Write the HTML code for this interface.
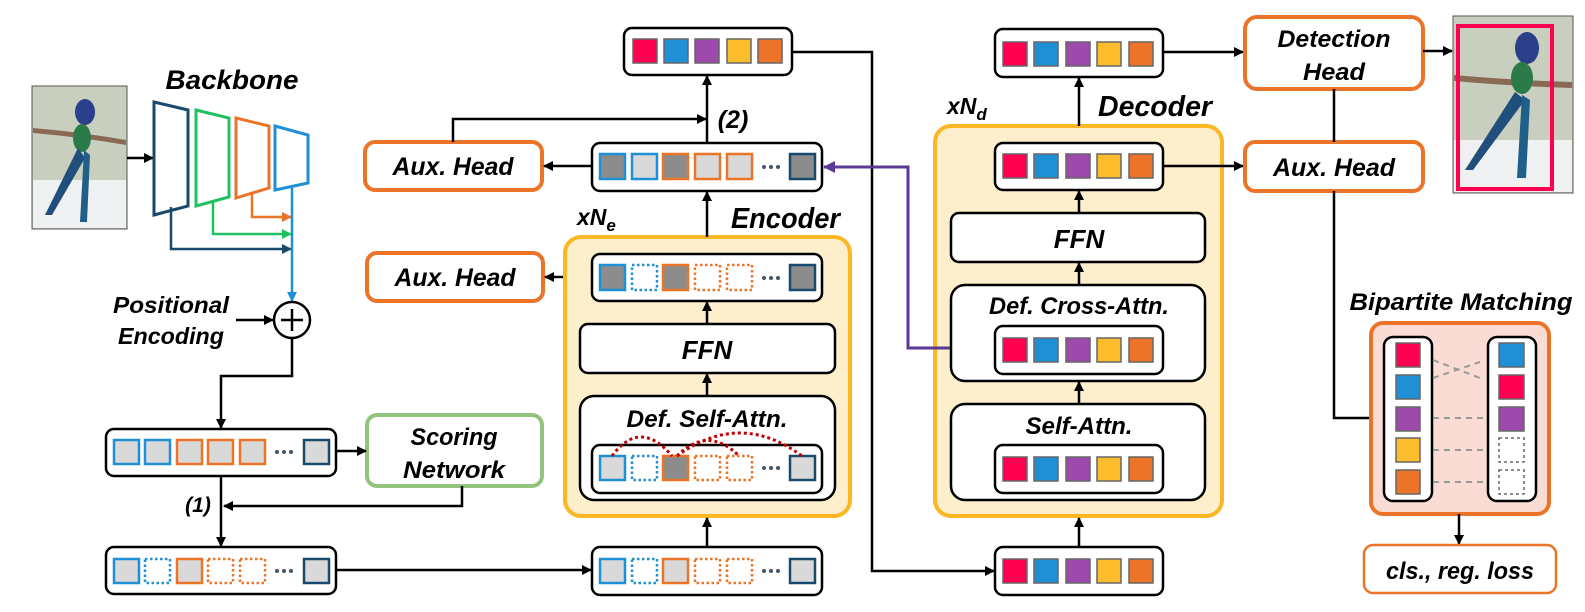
<!DOCTYPE html>
<html><head><meta charset="utf-8"><style>
html,body{margin:0;padding:0;background:#fff;}
svg{display:block;}
text{font-family:"Liberation Sans",sans-serif;font-weight:bold;font-style:italic;fill:#000;}
</style></head><body>
<svg width="1585" height="612" viewBox="0 0 1585 612" xmlns="http://www.w3.org/2000/svg">
<defs>
<marker id="a" markerWidth="10" markerHeight="10" refX="9" refY="5" orient="auto" markerUnits="userSpaceOnUse"><path d="M0,0 L10,5 L0,10 z" fill="#000"/></marker>
<marker id="ap" markerWidth="12" markerHeight="12" refX="11" refY="6" orient="auto" markerUnits="userSpaceOnUse"><path d="M0,0 L12,6 L0,12 z" fill="#5b3a96"/></marker>
<marker id="ao" markerWidth="10" markerHeight="10" refX="9" refY="5" orient="auto" markerUnits="userSpaceOnUse"><path d="M0,0 L10,5 L0,10 z" fill="#eb7428"/></marker>
<marker id="ag" markerWidth="10" markerHeight="10" refX="9" refY="5" orient="auto" markerUnits="userSpaceOnUse"><path d="M0,0 L10,5 L0,10 z" fill="#22c063"/></marker>
<marker id="an" markerWidth="10" markerHeight="10" refX="9" refY="5" orient="auto" markerUnits="userSpaceOnUse"><path d="M0,0 L10,5 L0,10 z" fill="#1a4a6b"/></marker>
<marker id="ab" markerWidth="10" markerHeight="10" refX="9" refY="5" orient="auto" markerUnits="userSpaceOnUse"><path d="M0,0 L10,5 L0,10 z" fill="#1f8fd6"/></marker>
</defs>

<!-- bird image left -->
<g>
<rect x="32" y="86" width="95" height="143" fill="#c9cfbf" stroke="#555" stroke-width="1"/>
<rect x="33" y="180" width="93" height="48" fill="#eef0f2"/>
<path d="M33,128 Q80,132 126,140 L126,145 Q80,137 33,133z" fill="#8a6a55"/>
<ellipse cx="85" cy="112" rx="10" ry="13" fill="#2b3f8a"/>
<ellipse cx="82" cy="138" rx="9" ry="14" fill="#2a7a4a"/>
<path d="M78,148 L45,215 L52,215 L85,158z" fill="#1f4f7a"/>
<path d="M84,150 L80,222 L87,222 L90,155z" fill="#1f5f8a"/>
</g>
<line x1="127" y1="158" x2="153" y2="158" stroke="#000" stroke-width="2.5" marker-end="url(#a)"/>

<!-- Backbone -->
<text x="232" y="89" font-size="27" text-anchor="middle" textLength="133" lengthAdjust="spacingAndGlyphs">Backbone</text>
<polygon points="154,102 188,110 188,206 154,215" fill="none" stroke="#1a4a6b" stroke-width="3"/>
<polygon points="196,110 229,118 229,197 196,206" fill="none" stroke="#22c063" stroke-width="3"/>
<polygon points="236,118 269,126 269,188 236,198" fill="none" stroke="#eb7428" stroke-width="3"/>
<polygon points="275,126 308,135 308,183 275,190" fill="none" stroke="#1f8fd6" stroke-width="3"/>
<polyline points="171,207 171,249 291,249" fill="none" stroke="#1a4a6b" stroke-width="2.5" marker-end="url(#an)"/>
<polyline points="213,202 213,234 291,234" fill="none" stroke="#22c063" stroke-width="2.5" marker-end="url(#ag)"/>
<polyline points="252,193 252,217 291,217" fill="none" stroke="#eb7428" stroke-width="2.5" marker-end="url(#ao)"/>
<line x1="292" y1="186" x2="292" y2="301" stroke="#1f8fd6" stroke-width="2.5" marker-end="url(#ab)"/>

<circle cx="292" cy="320" r="18" fill="#fff" stroke="#000" stroke-width="2.5"/>
<line x1="281" y1="320" x2="303" y2="320" stroke="#000" stroke-width="2.5"/>
<line x1="292" y1="309" x2="292" y2="331" stroke="#000" stroke-width="2.5"/>
<text x="171" y="313" font-size="23" text-anchor="middle" textLength="116" lengthAdjust="spacingAndGlyphs">Positional</text>
<text x="171" y="344" font-size="23" text-anchor="middle" textLength="106" lengthAdjust="spacingAndGlyphs">Encoding</text>
<line x1="236" y1="320" x2="273" y2="320" stroke="#000" stroke-width="2.5" marker-end="url(#a)"/>
<polyline points="292,338 292,376 221,376 221,428" fill="none" stroke="#000" stroke-width="2.5" marker-end="url(#a)"/>

<!-- Row 1 -->
<rect x="106" y="429" width="230" height="47" rx="8" fill="#fff" stroke="#000" stroke-width="2.5"/>
<g stroke-width="2.5">
<rect x="114" y="440" width="25" height="24" fill="#d9d9d9" stroke="#1f8fd6"/>
<rect x="145" y="440" width="25" height="24" fill="#d9d9d9" stroke="#1f8fd6"/>
<rect x="177" y="440" width="25" height="24" fill="#d9d9d9" stroke="#eb7428"/>
<rect x="208" y="440" width="25" height="24" fill="#d9d9d9" stroke="#eb7428"/>
<rect x="240" y="440" width="25" height="24" fill="#d9d9d9" stroke="#eb7428"/>
<rect x="304" y="440" width="25" height="24" fill="#d9d9d9" stroke="#1a4a6b"/>
</g>
<g fill="#44546a"><circle cx="277" cy="452" r="2"/><circle cx="284" cy="452" r="2"/><circle cx="291" cy="452" r="2"/></g>

<!-- Scoring Network -->
<rect x="367" y="415" width="175" height="71" rx="10" fill="#fff" stroke="#93c47d" stroke-width="4"/>
<text x="454" y="445" font-size="24" text-anchor="middle" textLength="87" lengthAdjust="spacingAndGlyphs">Scoring</text>
<text x="454" y="478" font-size="24" text-anchor="middle" textLength="102" lengthAdjust="spacingAndGlyphs">Network</text>
<line x1="336" y1="451" x2="366" y2="451" stroke="#000" stroke-width="2.5" marker-end="url(#a)"/>
<polyline points="462,486 462,506 224,506" fill="none" stroke="#000" stroke-width="2.5" marker-end="url(#a)"/>
<text x="198" y="512" font-size="21" text-anchor="middle">(1)</text>
<line x1="221" y1="476" x2="221" y2="546" stroke="#000" stroke-width="2.5" marker-end="url(#a)"/>

<!-- Row 2 -->
<rect x="106" y="547" width="230" height="47" rx="8" fill="#fff" stroke="#000" stroke-width="2.5"/>
<g stroke-width="2.5">
<rect x="114" y="559" width="25" height="24" fill="#d9d9d9" stroke="#1f8fd6"/>
<rect x="145" y="559" width="25" height="24" fill="none" stroke="#1f8fd6" stroke-dasharray="2.5,2.5"/>
<rect x="177" y="559" width="25" height="24" fill="#d9d9d9" stroke="#eb7428"/>
<rect x="208" y="559" width="25" height="24" fill="none" stroke="#eb7428" stroke-dasharray="2.5,2.5"/>
<rect x="240" y="559" width="25" height="24" fill="none" stroke="#eb7428" stroke-dasharray="2.5,2.5"/>
<rect x="304" y="559" width="25" height="24" fill="#d9d9d9" stroke="#1a4a6b"/>
</g>
<g fill="#44546a"><circle cx="277" cy="571" r="2"/><circle cx="284" cy="571" r="2"/><circle cx="291" cy="571" r="2"/></g>
<line x1="336" y1="570" x2="591" y2="570" stroke="#000" stroke-width="2.5" marker-end="url(#a)"/>

<!-- Aux heads left -->
<rect x="365" y="142" width="177" height="48" rx="10" fill="#fff" stroke="#eb7428" stroke-width="4"/>
<text x="453" y="175" font-size="25" text-anchor="middle" textLength="121" lengthAdjust="spacingAndGlyphs">Aux. Head</text>
<rect x="367" y="253" width="176" height="48" rx="10" fill="#fff" stroke="#eb7428" stroke-width="4"/>
<text x="455" y="286" font-size="25" text-anchor="middle" textLength="121" lengthAdjust="spacingAndGlyphs">Aux. Head</text>
<polyline points="453,142 453,119 706,119" fill="none" stroke="#000" stroke-width="2.5" marker-end="url(#a)"/>
<line x1="592" y1="166" x2="544" y2="166" stroke="#000" stroke-width="2.5" marker-end="url(#a)"/>
<line x1="592" y1="277" x2="545" y2="277" stroke="#000" stroke-width="2.5" marker-end="url(#a)"/>

<!-- Encoder -->
<rect x="565" y="237" width="285" height="279" rx="16" fill="#fdefcb" stroke="#fbb724" stroke-width="4"/>
<text x="731" y="228" font-size="29" textLength="109" lengthAdjust="spacingAndGlyphs">Encoder</text>
<text x="577" y="225" font-size="23">xN<tspan font-size="17" dy="6">e</tspan></text>
<text x="733" y="128" font-size="25" text-anchor="middle">(2)</text>

<!-- enc top out row -->
<rect x="624" y="28" width="168" height="47" rx="8" fill="#fff" stroke="#000" stroke-width="2.5"/>
<g stroke="#666" stroke-width="1.5">
<rect x="633" y="39" width="24" height="24" fill="#ff0050"/>
<rect x="664" y="39" width="24" height="24" fill="#1f8fd6"/>
<rect x="695" y="39" width="24" height="24" fill="#9e4aad"/>
<rect x="727" y="39" width="24" height="24" fill="#fbbd2b"/>
<rect x="758" y="39" width="24" height="24" fill="#eb7428"/>
</g>
<line x1="707" y1="143" x2="707" y2="76" stroke="#000" stroke-width="2.5" marker-end="url(#a)"/>
<polyline points="792,52 872,52 872,571 994,571" fill="none" stroke="#000" stroke-width="2.5" marker-end="url(#a)"/>

<!-- enc output row -->
<rect x="592" y="143" width="230" height="48" rx="8" fill="#fff" stroke="#000" stroke-width="2.5"/>
<g stroke-width="2.5">
<rect x="600" y="154" width="25" height="25" fill="#8c8c8c" stroke="#1f8fd6"/>
<rect x="632" y="154" width="25" height="25" fill="#d9d9d9" stroke="#1f8fd6"/>
<rect x="663" y="154" width="25" height="25" fill="#8c8c8c" stroke="#eb7428"/>
<rect x="695" y="154" width="25" height="25" fill="#d9d9d9" stroke="#eb7428"/>
<rect x="727" y="154" width="25" height="25" fill="#d9d9d9" stroke="#eb7428"/>
<rect x="790" y="154" width="25" height="25" fill="#8c8c8c" stroke="#1a4a6b"/>
</g>
<g fill="#44546a"><circle cx="764" cy="167" r="2"/><circle cx="771" cy="167" r="2"/><circle cx="778" cy="167" r="2"/></g>
<line x1="707" y1="237" x2="707" y2="192" stroke="#000" stroke-width="2.5" marker-end="url(#a)"/>

<!-- enc inner top row -->
<rect x="592" y="254" width="230" height="47" rx="8" fill="#fff" stroke="#000" stroke-width="2.5"/>
<g stroke-width="2.5">
<rect x="600" y="265" width="25" height="25" fill="#8c8c8c" stroke="#1f8fd6"/>
<rect x="632" y="265" width="25" height="25" fill="none" stroke="#1f8fd6" stroke-dasharray="2.5,2.5"/>
<rect x="663" y="265" width="25" height="25" fill="#8c8c8c" stroke="#eb7428"/>
<rect x="695" y="265" width="25" height="25" fill="none" stroke="#eb7428" stroke-dasharray="2.5,2.5"/>
<rect x="727" y="265" width="25" height="25" fill="none" stroke="#eb7428" stroke-dasharray="2.5,2.5"/>
<rect x="790" y="265" width="25" height="25" fill="#8c8c8c" stroke="#1a4a6b"/>
</g>
<g fill="#44546a"><circle cx="764" cy="278" r="2"/><circle cx="771" cy="278" r="2"/><circle cx="778" cy="278" r="2"/></g>
<line x1="707" y1="324" x2="707" y2="302" stroke="#000" stroke-width="2.5" marker-end="url(#a)"/>

<!-- enc FFN -->
<rect x="580" y="324" width="255" height="49" rx="8" fill="#fff" stroke="#000" stroke-width="2.5"/>
<text x="707" y="359" font-size="26" text-anchor="middle">FFN</text>
<line x1="707" y1="396" x2="707" y2="374" stroke="#000" stroke-width="2.5" marker-end="url(#a)"/>

<!-- enc def self attn -->
<rect x="580" y="396" width="255" height="104" rx="14" fill="#fff" stroke="#000" stroke-width="2.5"/>
<text x="707" y="427" font-size="24" text-anchor="middle" textLength="161" lengthAdjust="spacingAndGlyphs">Def. Self-Attn.</text>
<rect x="592" y="445" width="230" height="48" rx="8" fill="#fff" stroke="#000" stroke-width="2.5"/>
<g stroke-width="2.5">
<rect x="600" y="456" width="25" height="24" fill="#d9d9d9" stroke="#1f8fd6"/>
<rect x="632" y="456" width="25" height="24" fill="none" stroke="#1f8fd6" stroke-dasharray="2.5,2.5"/>
<rect x="663" y="456" width="25" height="24" fill="#8c8c8c" stroke="#eb7428"/>
<rect x="695" y="456" width="25" height="24" fill="none" stroke="#eb7428" stroke-dasharray="2.5,2.5"/>
<rect x="727" y="456" width="25" height="24" fill="none" stroke="#eb7428" stroke-dasharray="2.5,2.5"/>
<rect x="790" y="456" width="25" height="24" fill="#d9d9d9" stroke="#1a4a6b"/>
</g>
<g fill="#44546a"><circle cx="764" cy="468" r="2"/><circle cx="771" cy="468" r="2"/><circle cx="778" cy="468" r="2"/></g>
<g fill="none" stroke="#c00000" stroke-width="3" stroke-dasharray="3,3">
<path d="M612,456 Q640,418 672,456"/>
<path d="M677,456 Q708,425 739,456"/>
<path d="M677,456 Q740,410 802,456"/>
</g>
<line x1="707" y1="547" x2="707" y2="518" stroke="#000" stroke-width="2.5" marker-end="url(#a)"/>

<!-- enc input row -->
<rect x="592" y="547" width="230" height="48" rx="8" fill="#fff" stroke="#000" stroke-width="2.5"/>
<g stroke-width="2.5">
<rect x="600" y="559" width="25" height="24" fill="#d9d9d9" stroke="#1f8fd6"/>
<rect x="632" y="559" width="25" height="24" fill="none" stroke="#1f8fd6" stroke-dasharray="2.5,2.5"/>
<rect x="663" y="559" width="25" height="24" fill="#d9d9d9" stroke="#eb7428"/>
<rect x="695" y="559" width="25" height="24" fill="none" stroke="#eb7428" stroke-dasharray="2.5,2.5"/>
<rect x="727" y="559" width="25" height="24" fill="none" stroke="#eb7428" stroke-dasharray="2.5,2.5"/>
<rect x="790" y="559" width="25" height="24" fill="#d9d9d9" stroke="#1a4a6b"/>
</g>
<g fill="#44546a"><circle cx="764" cy="571" r="2"/><circle cx="771" cy="571" r="2"/><circle cx="778" cy="571" r="2"/></g>

<!-- Decoder -->
<rect x="935" y="126" width="287" height="390" rx="16" fill="#fdefcb" stroke="#fbb724" stroke-width="4"/>
<text x="1098" y="116" font-size="29" textLength="114" lengthAdjust="spacingAndGlyphs">Decoder</text>
<text x="947" y="114" font-size="23">xN<tspan font-size="17" dy="6">d</tspan></text>
<line x1="1079" y1="126" x2="1079" y2="78" stroke="#000" stroke-width="2.5" marker-end="url(#a)"/>

<!-- purple -->
<polyline points="995,348 908,348 908,167 824,167" fill="none" stroke="#5b3a96" stroke-width="3" marker-end="url(#ap)"/>

<!-- dec rows -->
<g>
<rect x="995" y="29" width="168" height="48" rx="8" fill="#fff" stroke="#000" stroke-width="2.5"/>
<rect x="995" y="143" width="168" height="47" rx="8" fill="#fff" stroke="#000" stroke-width="2.5"/>
<rect x="951" y="213" width="254" height="49" rx="8" fill="#fff" stroke="#000" stroke-width="2.5"/>
<rect x="951" y="285" width="254" height="96" rx="14" fill="#fff" stroke="#000" stroke-width="2.5"/>
<rect x="995" y="326" width="168" height="48" rx="8" fill="#fff" stroke="#000" stroke-width="2.5"/>
<rect x="951" y="404" width="254" height="96" rx="14" fill="#fff" stroke="#000" stroke-width="2.5"/>
<rect x="995" y="445" width="168" height="48" rx="8" fill="#fff" stroke="#000" stroke-width="2.5"/>
<rect x="995" y="547" width="168" height="48" rx="8" fill="#fff" stroke="#000" stroke-width="2.5"/>
</g>
<g stroke="#666" stroke-width="1.5">
<rect x="1003" y="42" width="24" height="24" fill="#ff0050"/><rect x="1034" y="42" width="24" height="24" fill="#1f8fd6"/><rect x="1066" y="42" width="24" height="24" fill="#9e4aad"/><rect x="1097" y="42" width="24" height="24" fill="#fbbd2b"/><rect x="1129" y="42" width="24" height="24" fill="#eb7428"/>
<rect x="1003" y="154" width="24" height="24" fill="#ff0050"/><rect x="1034" y="154" width="24" height="24" fill="#1f8fd6"/><rect x="1066" y="154" width="24" height="24" fill="#9e4aad"/><rect x="1097" y="154" width="24" height="24" fill="#fbbd2b"/><rect x="1129" y="154" width="24" height="24" fill="#eb7428"/>
<rect x="1003" y="338" width="24" height="24" fill="#ff0050"/><rect x="1034" y="338" width="24" height="24" fill="#1f8fd6"/><rect x="1066" y="338" width="24" height="24" fill="#9e4aad"/><rect x="1097" y="338" width="24" height="24" fill="#fbbd2b"/><rect x="1129" y="338" width="24" height="24" fill="#eb7428"/>
<rect x="1003" y="457" width="24" height="24" fill="#ff0050"/><rect x="1034" y="457" width="24" height="24" fill="#1f8fd6"/><rect x="1066" y="457" width="24" height="24" fill="#9e4aad"/><rect x="1097" y="457" width="24" height="24" fill="#fbbd2b"/><rect x="1129" y="457" width="24" height="24" fill="#eb7428"/>
<rect x="1003" y="559" width="24" height="24" fill="#ff0050"/><rect x="1034" y="559" width="24" height="24" fill="#1f8fd6"/><rect x="1066" y="559" width="24" height="24" fill="#9e4aad"/><rect x="1097" y="559" width="24" height="24" fill="#fbbd2b"/><rect x="1129" y="559" width="24" height="24" fill="#eb7428"/>
</g>
<text x="1079" y="248" font-size="26" text-anchor="middle">FFN</text>
<text x="1079" y="314" font-size="24" text-anchor="middle" textLength="180" lengthAdjust="spacingAndGlyphs">Def. Cross-Attn.</text>
<text x="1079" y="434" font-size="24" text-anchor="middle" textLength="107" lengthAdjust="spacingAndGlyphs">Self-Attn.</text>
<line x1="1079" y1="213" x2="1079" y2="191" stroke="#000" stroke-width="2.5" marker-end="url(#a)"/>
<line x1="1079" y1="285" x2="1079" y2="263" stroke="#000" stroke-width="2.5" marker-end="url(#a)"/>
<line x1="1079" y1="404" x2="1079" y2="382" stroke="#000" stroke-width="2.5" marker-end="url(#a)"/>
<line x1="1079" y1="547" x2="1079" y2="518" stroke="#000" stroke-width="2.5" marker-end="url(#a)"/>
<line x1="1163" y1="52" x2="1243" y2="52" stroke="#000" stroke-width="2.5" marker-end="url(#a)"/>
<line x1="1163" y1="166" x2="1243" y2="166" stroke="#000" stroke-width="2.5" marker-end="url(#a)"/>

<!-- Right heads -->
<rect x="1245" y="17" width="178" height="72" rx="12" fill="#fff" stroke="#eb7428" stroke-width="4"/>
<text x="1334" y="47" font-size="24" text-anchor="middle" textLength="113" lengthAdjust="spacingAndGlyphs">Detection</text>
<text x="1334" y="80" font-size="24" text-anchor="middle" textLength="62" lengthAdjust="spacingAndGlyphs">Head</text>
<rect x="1245" y="142" width="178" height="49" rx="10" fill="#fff" stroke="#eb7428" stroke-width="4"/>
<text x="1334" y="176" font-size="25" text-anchor="middle" textLength="122" lengthAdjust="spacingAndGlyphs">Aux. Head</text>
<line x1="1334" y1="89" x2="1334" y2="142" stroke="#000" stroke-width="2.5"/>
<polyline points="1334,191 1334,418 1383,418" fill="none" stroke="#000" stroke-width="2.5" marker-end="url(#a)"/>
<line x1="1423" y1="51" x2="1452" y2="51" stroke="#000" stroke-width="2.5" marker-end="url(#a)"/>

<!-- bird image right -->
<g>
<rect x="1453" y="16" width="120" height="177" fill="#c9cfbf" stroke="#555" stroke-width="1"/>
<rect x="1454" y="140" width="118" height="52" fill="#eef0f2"/>
<path d="M1454,75 Q1510,80 1572,82 L1572,88 Q1510,86 1454,81z" fill="#8a6a55"/>
<ellipse cx="1527" cy="48" rx="12" ry="16" fill="#2b3f8a"/>
<ellipse cx="1522" cy="78" rx="11" ry="16" fill="#2a7a4a"/>
<path d="M1515,92 L1465,170 L1473,170 L1525,100z" fill="#1f4f7a"/>
<path d="M1522,95 L1517,178 L1526,178 L1530,100z" fill="#1f5f8a"/>
<rect x="1458" y="26" width="94" height="163" fill="none" stroke="#ff0050" stroke-width="4"/>
</g>

<!-- Bipartite -->
<text x="1461" y="310" font-size="24" text-anchor="middle" textLength="223" lengthAdjust="spacingAndGlyphs">Bipartite Matching</text>
<rect x="1371" y="323" width="178" height="191" rx="12" fill="#fadcd4" stroke="#eb7428" stroke-width="4"/>
<rect x="1384" y="337" width="48" height="164" rx="9" fill="#fff" stroke="#000" stroke-width="2.5"/>
<rect x="1488" y="337" width="48" height="164" rx="9" fill="#fff" stroke="#000" stroke-width="2.5"/>
<g stroke="#666" stroke-width="1.5">
<rect x="1396" y="343" width="24" height="24" fill="#ff0050"/>
<rect x="1396" y="375" width="24" height="24" fill="#1f8fd6"/>
<rect x="1396" y="407" width="24" height="24" fill="#9e4aad"/>
<rect x="1396" y="438" width="24" height="24" fill="#fbbd2b"/>
<rect x="1396" y="470" width="24" height="24" fill="#eb7428"/>
<rect x="1499" y="343" width="25" height="24" fill="#1f8fd6"/>
<rect x="1499" y="375" width="25" height="24" fill="#ff0050"/>
<rect x="1499" y="407" width="25" height="24" fill="#9e4aad"/>
<rect x="1499" y="438" width="25" height="24" fill="none" stroke-dasharray="3,3"/>
<rect x="1499" y="470" width="25" height="24" fill="none" stroke-dasharray="3,3"/>
</g>
<g stroke="#999" stroke-width="2" stroke-dasharray="6,5">
<line x1="1433" y1="360" x2="1480" y2="378"/>
<line x1="1433" y1="378" x2="1480" y2="362"/>
<line x1="1433" y1="418" x2="1486" y2="418"/>
<line x1="1433" y1="450" x2="1486" y2="450"/>
<line x1="1433" y1="482" x2="1486" y2="482"/>
</g>
<line x1="1459" y1="514" x2="1459" y2="544" stroke="#000" stroke-width="2.5" marker-end="url(#a)"/>
<rect x="1364" y="545" width="192" height="48" rx="9" fill="#fff" stroke="#eb7428" stroke-width="2.5"/>
<text x="1460" y="579" font-size="24" text-anchor="middle" textLength="148" lengthAdjust="spacingAndGlyphs">cls., reg. loss</text>
</svg>
</body></html>
